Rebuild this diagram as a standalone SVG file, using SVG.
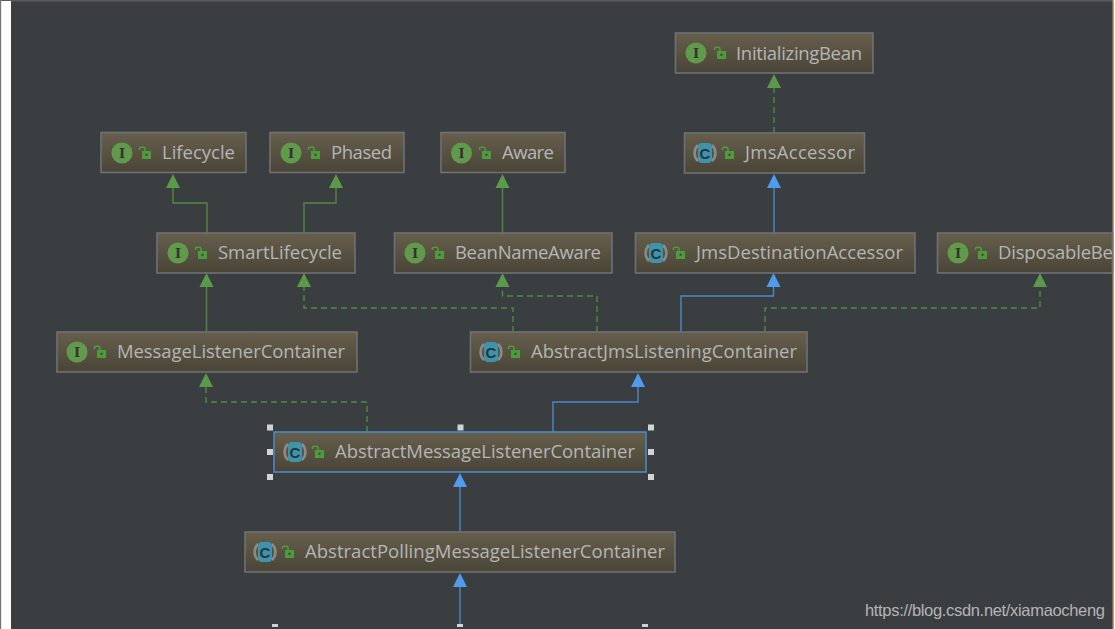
<svg xmlns="http://www.w3.org/2000/svg" width="1115" height="629" viewBox="0 0 1115 629">
<style>
.box{stroke:#6f7173;stroke-width:1.6}
.sel{stroke:#4a88c7;stroke-width:1.6}
.t{font-family:"Open Sans","Noto Sans","Liberation Sans",sans-serif;font-size:18.500px;fill:#b4b6b6}
.g{fill:none;stroke:#4e8a3f;stroke-width:1.4}
.d{stroke-dasharray:6 4}
.b{fill:none;stroke:#4a88c7;stroke-width:1.4}
.ag{fill:#5a9a4a}
.ab{fill:#4f9bf0}
.ci{fill:#629a4c}
.cc{fill:#3f93aa}
.cw{fill:none;stroke:#8a8c8c;stroke-width:2.500}
.l{font-family:"DejaVu Serif","Liberation Serif",serif;font-size:13px;font-weight:bold;fill:#333;text-anchor:middle}
.cl{font-family:"Liberation Sans",sans-serif;font-size:15px;font-weight:bold;fill:#26363c;text-anchor:middle}
.lk{fill:#4f9a3c}
.ls{fill:none;stroke:#4f9a3c;stroke-width:1.6}
.h{fill:#d2d2d2}
</style>
<defs>
<linearGradient id="grad" x1="0" y1="0" x2="0" y2="1"><stop offset="0" stop-color="#675f4d"/><stop offset="1" stop-color="#494537"/></linearGradient>
<g id="lock"><path class="ls" d="M-0.500 -4V-5.500Q-0.500-6.800 1-6.800H3.500Q5-6.800 5-5V-2"/><rect class="lk" x="2" y="-3" width="9" height="8"/><rect x="5.500" y="-0.200" width="2" height="2" fill="#2f4d28"/></g>
<g id="iface"><circle class="ci" r="10.500"/><text class="l" y="4.500">I</text></g>
<g id="cls"><path class="cw" d="M-7-8A11 11 0 0 0-7 8M7-8A11 11 0 0 1 7 8"/><rect class="cc" x="-7" y="-10" width="14" height="20" rx="4"/><text class="cl" y="5.500">C</text></g>
</defs>
<rect width="1115" height="629" fill="#3b3e41"/>
<rect x="0" y="0" width="1115" height="1.500" fill="#5a5a5a"/>
<rect x="1" y="1" width="10" height="628" fill="#fff"/>
<rect x="0" y="0" width="1.200" height="629" fill="#777"/>
<rect x="1112.500" y="0" width="1.200" height="629" fill="#c8964a"/>
<rect x="1113.700" y="0" width="1.300" height="629" fill="#fff"/>

<g id="connectors">
<path class="g d" d="M774 133V86"/>
<path class="b" d="M774 233V186"/>
<path class="g" d="M207 233V203H173V186"/>
<path class="g" d="M304 233V203H336V186"/>
<path class="g" d="M502.500 233V186"/>
<path class="g" d="M206.500 332V286"/>
<path class="g d" d="M513 332V308H304V286"/>
<path class="g d" d="M597 332V296H502.500V286"/>
<path class="b" d="M681 332V296H773.500V286"/>
<path class="g d" d="M765 332V308H1040V286"/>
<path class="g d" d="M367 432V402H206V386"/>
<path class="b" d="M553 432V402H638V386"/>
<path class="b" d="M460 532V486"/>
<path class="b" d="M460 625V586"/>
<path class="ag" d="M774 74L781 88H767Z"/>
<path class="ab" d="M774 174L781 188H767Z"/>
<path class="ag" d="M173 174L180 188H166Z"/>
<path class="ag" d="M336 174L343 188H329Z"/>
<path class="ag" d="M502.500 174L509.500 188H495.500Z"/>
<path class="ag" d="M206.500 273L213.500 287H199.500Z"/>
<path class="ag" d="M304 273L311 287H297Z"/>
<path class="ag" d="M502.500 273L509.500 287H495.500Z"/>
<path class="ab" d="M773.500 273L780.500 287H766.500Z"/>
<path class="ag" d="M1040 273L1047 287H1033Z"/>
<path class="ag" d="M206 373L213 387H199Z"/>
<path class="ab" d="M638 373L645 387H631Z"/>
<path class="ab" d="M460 473L467 487H453Z"/>
<path class="ab" d="M460 573L467 587H453Z"/>
</g>

<g id="InitializingBean"><rect class="box" x="675.500" y="33" width="197.500" height="40" fill="url(#grad)"/><use href="#iface" x="696" y="53"/><use href="#lock" x="715" y="54"/><text class="t" x="736" y="59.500" textLength="126">InitializingBean</text></g>
<g id="JmsAccessor"><rect class="box" x="684.500" y="133" width="180" height="40" fill="url(#grad)"/><use href="#cls" x="705" y="153"/><use href="#lock" x="723" y="154"/><text class="t" x="745" y="159" textLength="110">JmsAccessor</text></g>
<g id="Lifecycle"><rect class="box" x="101" y="132.500" width="145" height="40" fill="url(#grad)"/><use href="#iface" x="122" y="153"/><use href="#lock" x="140" y="154"/><text class="t" x="162" y="159" textLength="73">Lifecycle</text></g>
<g id="Phased"><rect class="box" x="270" y="132.500" width="134" height="40" fill="url(#grad)"/><use href="#iface" x="291" y="153"/><use href="#lock" x="309" y="154"/><text class="t" x="331" y="159" textLength="61">Phased</text></g>
<g id="Aware"><rect class="box" x="441" y="132.500" width="124" height="40" fill="url(#grad)"/><use href="#iface" x="461.500" y="153"/><use href="#lock" x="480" y="154"/><text class="t" x="502" y="159" textLength="52">Aware</text></g>
<g id="SmartLifecycle"><rect class="box" x="157" y="233" width="198" height="40" fill="url(#grad)"/><use href="#iface" x="178" y="253"/><use href="#lock" x="196" y="254"/><text class="t" x="218" y="259" textLength="124">SmartLifecycle</text></g>
<g id="BeanNameAware"><rect class="box" x="394.500" y="233" width="217.500" height="40" fill="url(#grad)"/><use href="#iface" x="415" y="253"/><use href="#lock" x="433" y="254"/><text class="t" x="455" y="259" textLength="146">BeanNameAware</text></g>
<g id="JmsDestinationAccessor"><rect class="box" x="635.500" y="233" width="279.500" height="40" fill="url(#grad)"/><use href="#cls" x="656" y="253"/><use href="#lock" x="674" y="254"/><text class="t" x="696" y="259" textLength="207">JmsDestinationAccessor</text></g>
<g id="DisposableBean"><rect class="box" x="937.500" y="233" width="175" height="40" fill="url(#grad)"/><use href="#iface" x="958" y="253"/><use href="#lock" x="976" y="254"/><text class="t" x="998" y="259" textLength="115" lengthAdjust="spacing">DisposableBe</text></g>
<g id="MessageListenerContainer"><rect class="box" x="57" y="332" width="300" height="40" fill="url(#grad)"/><use href="#iface" x="77" y="352"/><use href="#lock" x="95" y="353"/><text class="t" x="117" y="358" textLength="228">MessageListenerContainer</text></g>
<g id="AbstractJmsListeningContainer"><rect class="box" x="470.500" y="332" width="336.500" height="40" fill="url(#grad)"/><use href="#cls" x="491" y="352"/><use href="#lock" x="509" y="353"/><text class="t" x="531" y="358" textLength="266">AbstractJmsListeningContainer</text></g>
<g id="AbstractMessageListenerContainer"><rect class="sel" x="274" y="432" width="372" height="40" fill="url(#grad)"/><use href="#cls" x="295" y="452"/><use href="#lock" x="313" y="453"/><text class="t" x="335" y="458" textLength="300">AbstractMessageListenerContainer</text></g>
<g id="AbstractPollingMessageListenerContainer"><rect class="box" x="245" y="532" width="430" height="40" fill="url(#grad)"/><use href="#cls" x="265" y="552"/><use href="#lock" x="283" y="553"/><text class="t" x="305" y="558" textLength="360">AbstractPollingMessageListenerContainer</text></g>

<g id="handles">
<rect class="h" x="267" y="424.500" width="6" height="6"/><rect class="h" x="457.500" y="424.500" width="6" height="6"/><rect class="h" x="648" y="424.500" width="6" height="6"/>
<rect class="h" x="267" y="449" width="6" height="6"/><rect class="h" x="648" y="449" width="6" height="6"/>
<rect class="h" x="267" y="474" width="6" height="6"/><rect class="h" x="648" y="474" width="6" height="6"/>
<rect class="h" x="272" y="624" width="6" height="3"/><rect class="h" x="457" y="624" width="6" height="3"/><rect class="h" x="642" y="624" width="6" height="3"/>
</g>
<text x="865" y="615.500" font-family="'Liberation Sans',Arial,sans-serif" font-size="16.500" fill="#b4b4b4" textLength="240">https://blog.csdn.net/xiamaocheng</text>
</svg>
